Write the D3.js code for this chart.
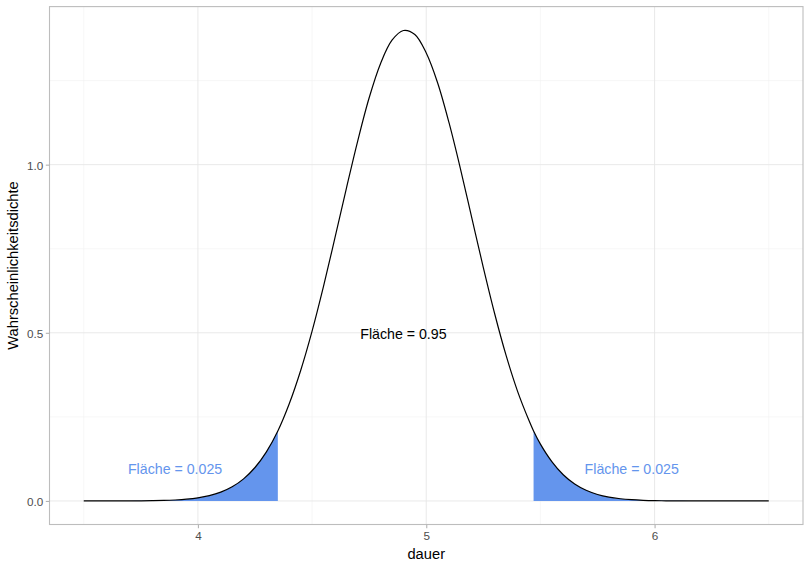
<!DOCTYPE html>
<html>
<head>
<meta charset="utf-8">
<script src="https://cdn.jsdelivr.net/npm/d3@7"></script>
<style>
body{margin:0;background:#fff;}
svg{display:block;font-family:"Liberation Sans",Arial,Helvetica,sans-serif;}
</style>
</head>
<body>
<svg id="chart" width="810" height="570"></svg>
<script>
// Density curve
const dauer = [3.50,3.55,3.60,3.65,3.70,3.75,3.80,3.85,3.90,3.95,4.00,4.05,4.10,4.15,4.20,4.25,4.30,4.35,4.40,4.45,4.50,4.55,4.60,4.65,4.70,4.75,4.80,4.85,4.90,4.95,5.00,5.05,5.10,5.15,5.20,5.25,5.30,5.35,5.40,5.45,5.47,5.50,5.55,5.60,5.65,5.70,5.75,5.80,5.85,5.90,5.95,6.00,6.05,6.10,6.15,6.20,6.25,6.30,6.35,6.40,6.45,6.50];
const dichte = [0.0000,0.0000,0.0000,0.0001,0.0002,0.0004,0.0008,0.0015,0.0029,0.0052,0.0092,0.0157,0.0261,0.0420,0.0657,0.0995,0.146,0.208,0.289,0.388,0.505,0.638,0.782,0.929,1.071,1.199,1.301,1.370,1.399,1.387,1.332,1.243,1.124,0.987,0.840,0.694,0.556,0.432,0.326,0.239,0.208,0.169,0.117,0.0779,0.0504,0.0317,0.0193,0.0114,0.0066,0.0037,0.0020,0.0010,0.0005,0.0003,0.0001,0.0001,0.0000,0.0000,0.0000,0.0000,0.0000,0.0000];
const unterGrenze = 4.35;
const oberGrenze = 5.47;
const xTicks = [4,5,6];
const xMinor = [3.5,4.5,5.5,6.5];
const yTicks = [0,0.5,1.0];
const yMinor = [0.25,0.75,1.25];
const labels = [
  {x:4.90, y:0.5, text:"Fläche = 0.95", col:"#000000"},
  {x:3.90, y:0.1, text:"Fläche = 0.025", col:"#6495ED"},
  {x:5.90, y:0.1, text:"Fläche = 0.025", col:"#6495ED"}
];

const data = dauer.map((d,i)=>({x:d,y:dichte[i]}));
const svg = d3.select("#chart");
const L=49.5, R=803, T=6.6, B=524.5;
const x = d3.scaleLinear().domain([3.35,6.65]).range([L,R]);
const y = d3.scaleLinear().domain([-0.07,1.47]).range([B,T]);

// grid
const g = svg.append("g");
g.selectAll(".vmin").data(xMinor).enter().append("line")
  .attr("x1",d=>x(d)).attr("x2",d=>x(d)).attr("y1",T).attr("y2",B)
  .attr("stroke","#F2F2F2").attr("stroke-width",0.6);
g.selectAll(".hmin").data(yMinor).enter().append("line")
  .attr("y1",d=>y(d)).attr("y2",d=>y(d)).attr("x1",L).attr("x2",R)
  .attr("stroke","#F2F2F2").attr("stroke-width",0.6);
g.selectAll(".vmaj").data(xTicks).enter().append("line")
  .attr("x1",d=>x(d)).attr("x2",d=>x(d)).attr("y1",T).attr("y2",B)
  .attr("stroke","#E6E6E6").attr("stroke-width",0.9);
g.selectAll(".hmaj").data(yTicks).enter().append("line")
  .attr("y1",d=>y(d)).attr("y2",d=>y(d)).attr("x1",L).attr("x2",R)
  .attr("stroke","#E6E6E6").attr("stroke-width",0.9);

// shaded tails
const area = d3.area().x(d=>x(d.x)).y0(y(0)).y1(d=>y(d.y)).curve(d3.curveCatmullRom);
svg.append("path").datum(data.filter(d=>d.x<=unterGrenze))
  .attr("d",area).attr("fill","#6495ED");
svg.append("path").datum(data.filter(d=>d.x>=oberGrenze))
  .attr("d",area).attr("fill","#6495ED");

// curve
const line = d3.line().x(d=>x(d.x)).y(d=>y(d.y)).curve(d3.curveCatmullRom);
svg.append("path").datum(data).attr("d",line)
  .attr("fill","none").attr("stroke","#000").attr("stroke-width",1.2);

// labels
svg.selectAll(".lab").data(labels).enter().append("text")
  .attr("x",d=>x(d.x)).attr("y",d=>y(d.y))
  .attr("text-anchor","middle").attr("dy","0.45em")
  .attr("font-size","14.2px").attr("fill",d=>d.col)
  .text(d=>d.text);

// panel border
svg.append("rect").attr("x",L).attr("y",T).attr("width",R-L).attr("height",B-T)
  .attr("fill","none").attr("stroke","#BDBDBD").attr("stroke-width",1.1);

// axes
const xAxis = d3.axisBottom(x).tickValues(xTicks).tickFormat(d3.format("d")).tickSize(3.7).tickPadding(3.2);
const ax = svg.append("g").attr("transform",`translate(0,${B})`).call(xAxis);
const yAxis = d3.axisLeft(y).tickValues(yTicks).tickFormat(d3.format(".1f")).tickSize(3.7).tickPadding(2.5);
const ay = svg.append("g").attr("transform",`translate(${L},0)`).call(yAxis);
[ax,ay].forEach(a=>{
  a.select(".domain").remove();
  a.selectAll(".tick line").attr("stroke","#B3B3B3").attr("stroke-width",1.1);
  a.selectAll(".tick text").attr("fill","#4D4D4D").attr("font-size","11.7px")
   .attr("font-family","Liberation Sans, Arial, sans-serif");
});
ay.selectAll(".tick text").attr("dy","0.42em");

// axis titles
svg.append("text").attr("x",(L+R)/2).attr("y",559).attr("text-anchor","middle")
  .attr("font-size","14.7px").attr("fill","#000").text("dauer");
svg.append("text").attr("transform",`translate(18,${(T+B)/2}) rotate(-90)`)
  .attr("text-anchor","middle").attr("font-size","14.7px").attr("fill","#000")
  .text("Wahrscheinlichkeitsdichte");
</script>
</body>
</html>
